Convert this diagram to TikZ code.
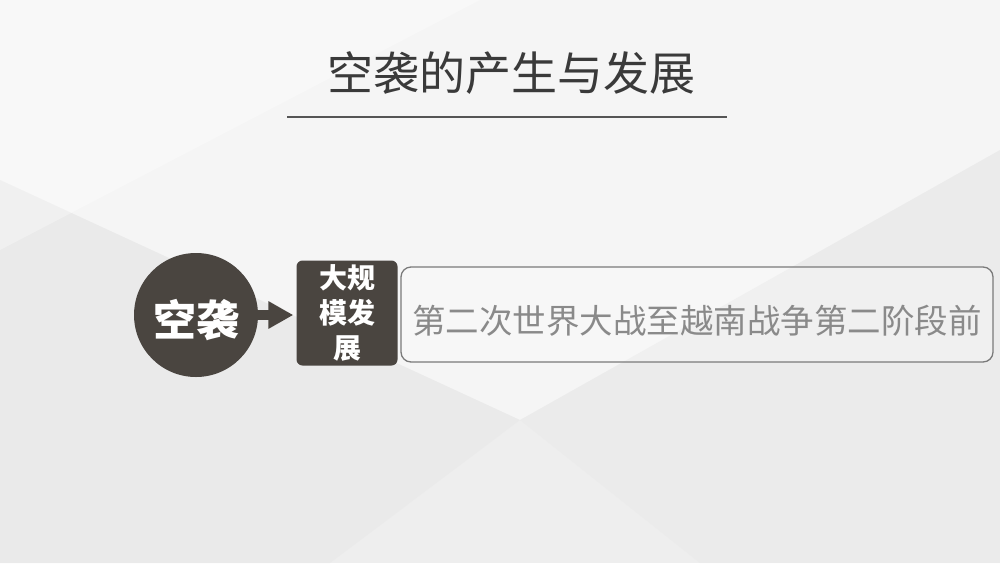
\documentclass[tikz,border=0pt]{standalone}
\usepackage{fontspec}
\newfontfamily\cjk{Noto Sans CJK SC}
\usetikzlibrary{arrows.meta}
\definecolor{bgc}{HTML}{EEEEEE}
\definecolor{bglight}{HTML}{F5F5F5}
\definecolor{bgdark}{HTML}{E7E7E7}
\definecolor{darkfill}{HTML}{4A4540}
\definecolor{titlec}{HTML}{3A3A3A}
\definecolor{linec}{HTML}{555555}
\definecolor{boxline}{HTML}{7A7A7A}
\definecolor{boxtext}{HTML}{8A8A8A}
\newcommand{\lowerby}[2]{\raisebox{-#1}[\height][\depth]{#2}}
\tikzset{
  titletext/.style={font=\cjk\fontsize{46}{48}\selectfont, text=titlec, inner sep=0pt},
  circlenode/.style={circle, fill=darkfill, minimum size=124pt, inner sep=0pt,
    font=\cjk\bfseries\fontsize{43}{48}\selectfont, text=white},
  darkbox/.style={rectangle, rounded corners=6pt, fill=darkfill, minimum width=101pt,
    minimum height=100pt, inner sep=0pt, align=center, text=white,
    font=\cjk\bfseries\fontsize{28}{35}\selectfont},
  textbox/.style={rectangle, rounded corners=10pt, draw=boxline, line width=1.3pt,
    fill=white, fill opacity=0.25, text opacity=1, minimum width=592pt, minimum height=95pt,
    inner sep=0pt, text=boxtext, font=\cjk\fontsize{33.5}{36}\selectfont},
  conn/.style={draw=darkfill, line width=10pt, -{Triangle[length=25pt 0, width=26pt 0]}}
}
\begin{document}
\begin{tikzpicture}[x=1pt,y=-1pt]
\useasboundingbox (0,0) rectangle (1000,563);
% background
\fill[bgc] (0,0) rectangle (1000,563);
\fill[bglight] (0,0) -- (1000,0) -- (1000,150) -- (520,420) -- (0,180) -- cycle;
\fill[bgdark, opacity=0.5] (0,180) -- (520,420) -- (330,563) -- (0,563) -- cycle;
\fill[bgdark, opacity=0.4] (1000,150) -- (520,420) -- (700,563) -- (1000,563) -- cycle;
\fill[white, opacity=0.3] (0,0) -- (480,0) -- (0,250) -- cycle;
% title
\node[titletext] (title) at (511,73) {空袭的产生与发展};
\coordinate (tl) at (287,117);
\coordinate (tr) at (727,117);
\draw[linec, line width=1.6pt] (tl) -- (tr);
% nodes
\node[circlenode] (air) at (196,315) {\lowerby{5pt}{空袭}};
\node[darkbox] (stage) at (347,313) {\lowerby{3pt}{\begin{tabular}{@{}c@{}}大规\\模发\\展\end{tabular}}};
\node[textbox] (desc) at (697,314.5) {\lowerby{6pt}{第二次世界大战至越南战争第二阶段前}};
% connector
\draw[conn] (air.east) -- ([xshift=-3pt]stage.west |- air.east);
\end{tikzpicture}
\end{document}
